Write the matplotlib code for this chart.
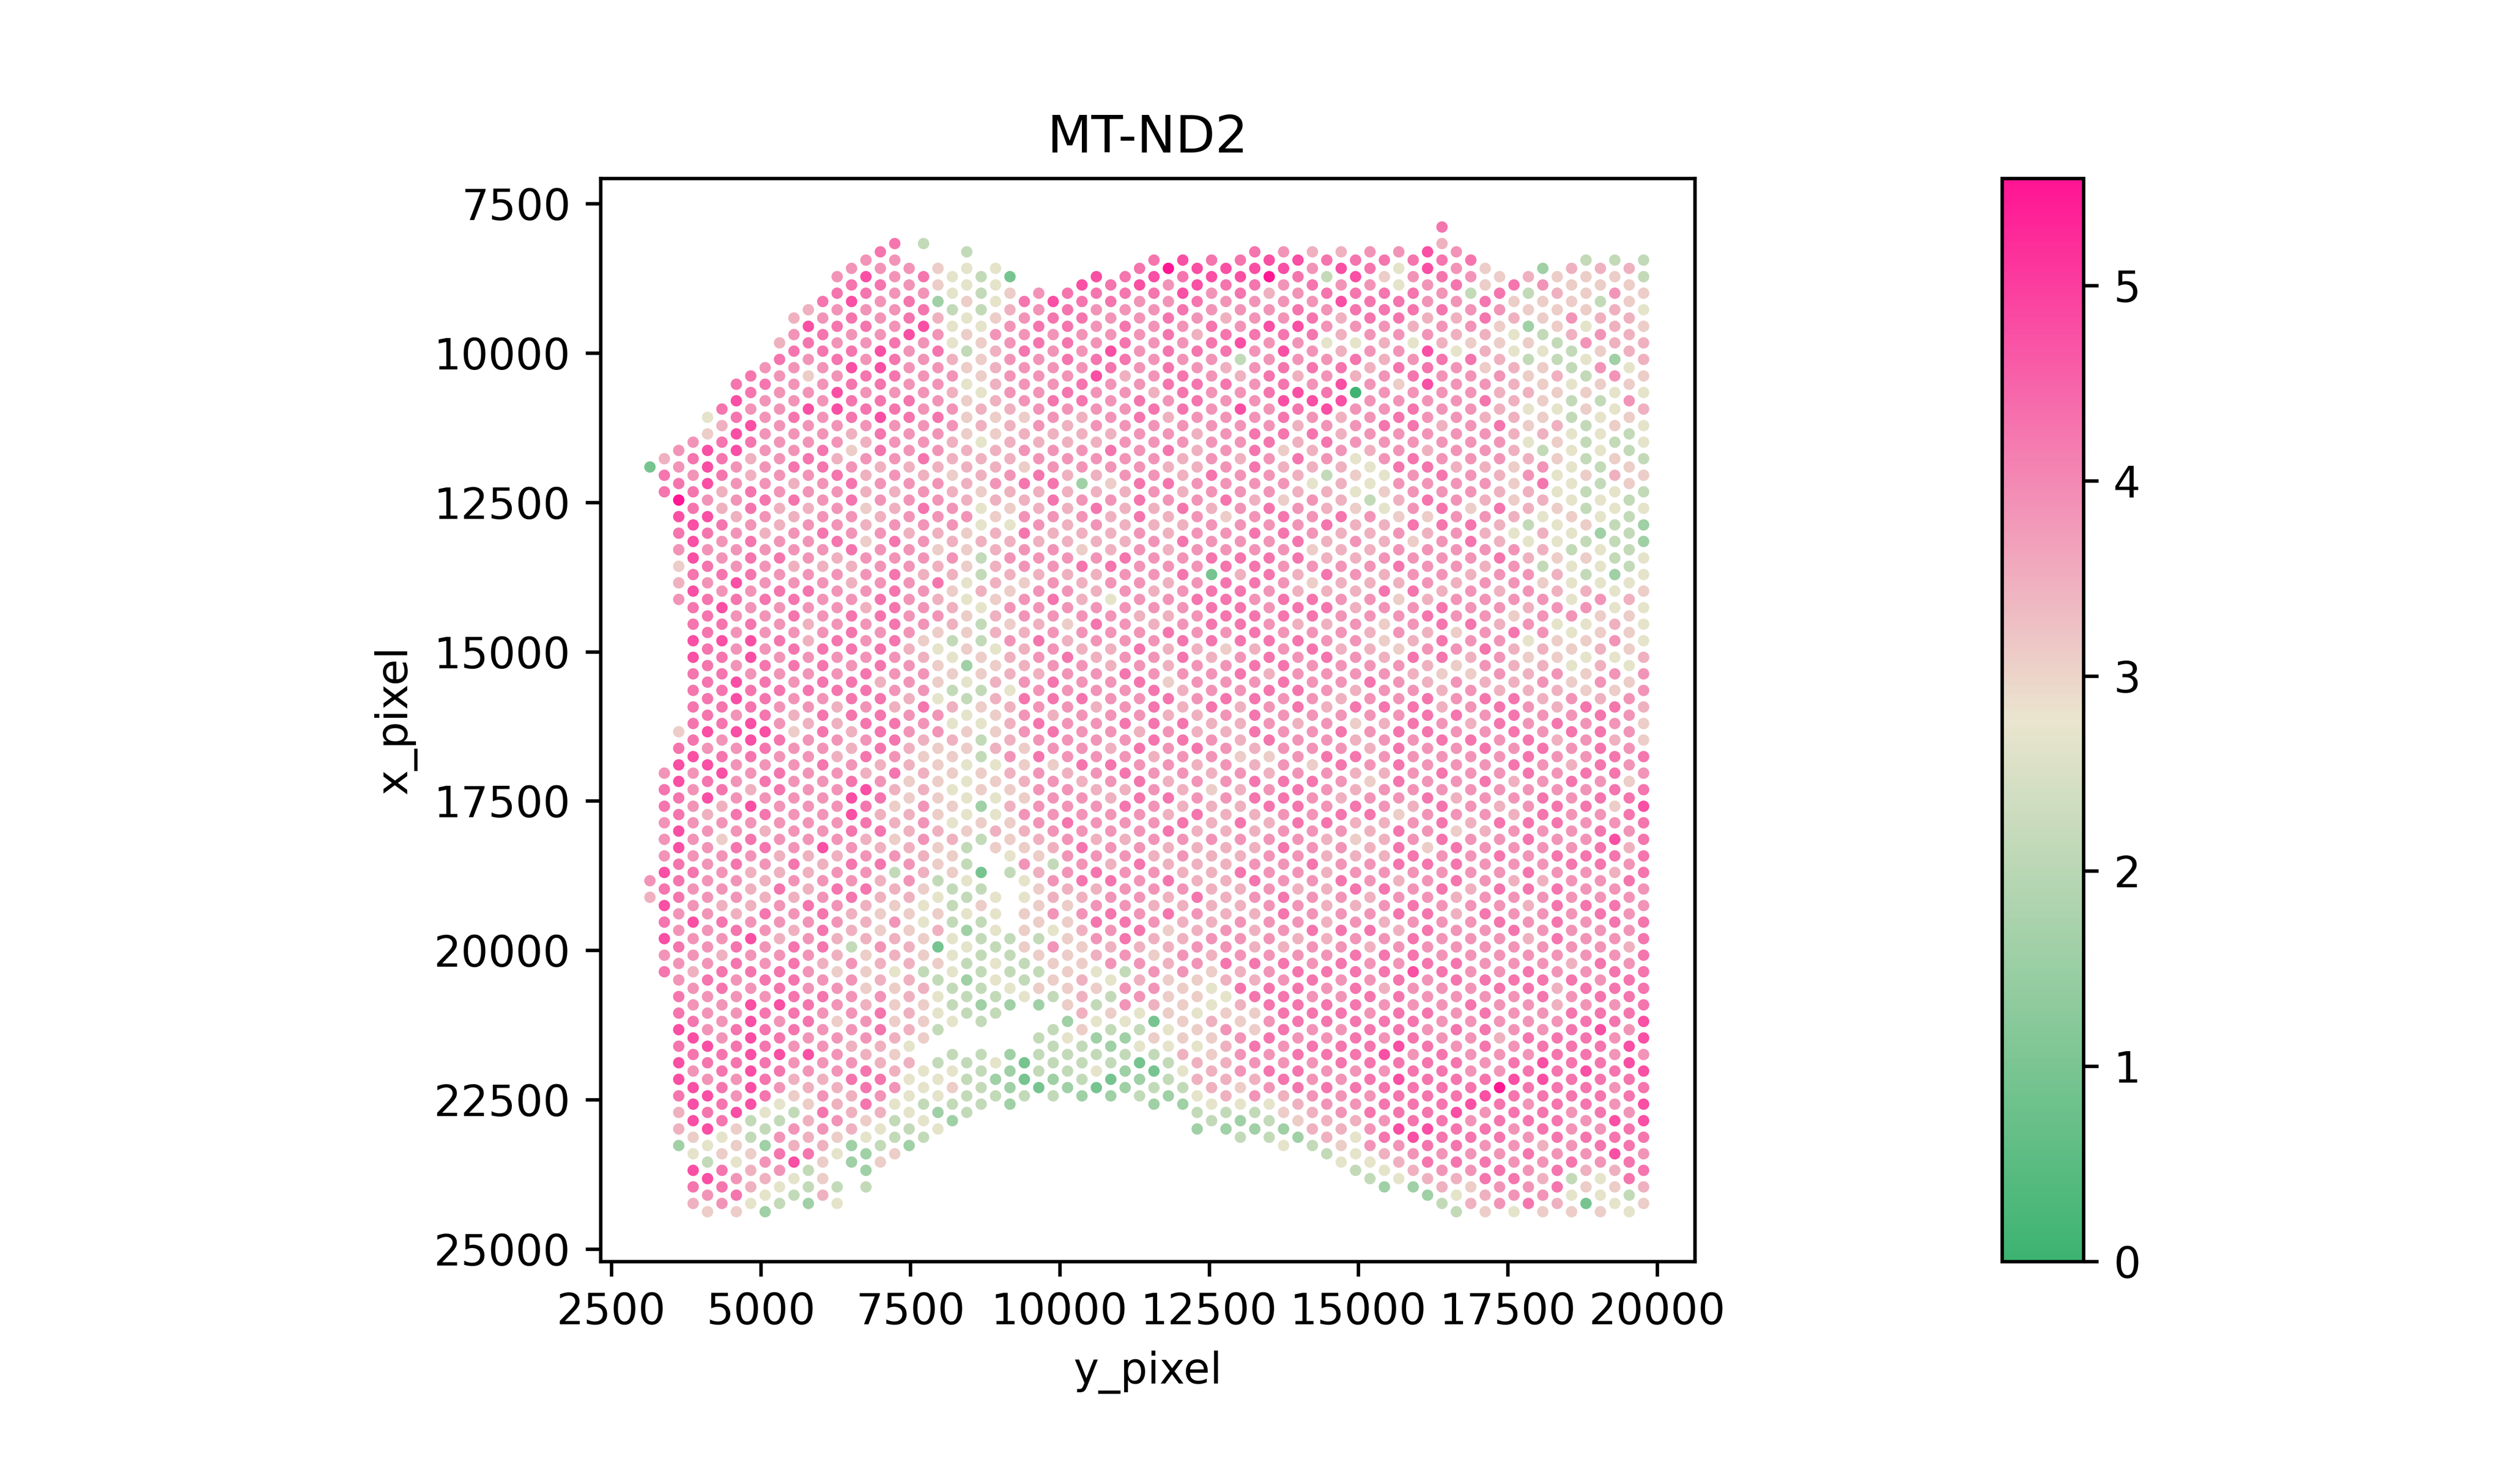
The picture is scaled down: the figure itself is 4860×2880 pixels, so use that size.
import numpy as np
import matplotlib
matplotlib.use('Agg')
import matplotlib.pyplot as plt
from matplotlib.colors import LinearSegmentedColormap

# spot grid: column / row number of the hex lattice
col_start = 3144
col_step = 241.0
row_start = 7894
row_step = 138.5

# colour class of a spot -> expression value ('x' is the very brightest)
level_values = {'0': 0.05, '1': 0.95, '2': 1.6, '3': 2.15, '4': 2.7, '5': 3.1,
                '6': 3.45, '7': 3.85, '8': 4.25, '9': 4.75, 'x': 5.5}

seg_col = [0, 0, 1, 1, 2, 2, 3, 4, 5, 6, 7, 8, 9, 10, 11, 12, 13, 14, 15, 16, 17, 18,
           19, 19, 20, 21, 22, 23, 24, 25, 26, 27, 28, 29, 30, 31, 32, 33, 34, 35, 36,
           37, 38, 39, 40, 41, 42, 43, 44, 45, 46, 47, 48, 49, 50, 51, 52, 53, 54, 55,
           56, 57, 58, 59, 60, 61, 62, 63, 64, 65, 66, 67, 68, 69]
seg_row = [29, 79, 28, 66, 27, 61, 26, 23, 22, 19, 18, 17, 14, 11, 10, 9, 6, 5, 4, 3, 2, 5,
           2, 6, 5, 6, 3, 6, 5, 6, 9, 8, 9, 8, 7, 6, 7, 6, 5, 4, 5,
           4, 5, 4, 5, 4, 3, 4, 3, 4, 3, 4, 3, 4, 3, 4, 3, 4, 3, 0,
           3, 4, 5, 6, 7, 6, 5, 6, 5, 4, 5, 4, 5, 4]
seg_levels = [
    "1",
    "76",
    "688",
    "7887779898978",
    "778x987567",
    "5899889988877" "8778898998662",
    "787889998" "988998888897777778779" "77677898799954986",
    "45999798787" "888888889798967777777" "77877798798943975",
    "86888668778" "798988888789867577768" "76887778888845887",
    "8989977767779" "877779979777787887768" "88777888779554785",
    "8879866887888" "778997889987697876667" "97879999999335664",
    "78777777876777" "877788889878786876687" "77878888884327642",
    "687777777766787" "877877877878877766877" "67889789874378743",
    "67877787786867767" "887887765777777787676" "8888887765376943",
    "69875797787767777" "876677876777777766687" "77778879765668332",
    "878877777887778767" "777888788787777967788" "8678777767876556",
    "7878787997768777867" "777877866767777767877" "66577577766754.34",
    "78987898886578877866" "788878886678998787866" "37777767866622",
    "79878778787676656577" "767778878786988677866" "6555677688854223",
    "878777998898867767777" "887886888867868686655" "76678866876435",
    "877777888787777667878" "888877768878656573657" "66455565674335",
    "77889777887767776777" "777677677665566677655" "6666664644432",
    "3",
    "8789777777786787776" "777567787656677766544" "5536555.44343",
    "55267877787767776568" "675455477555556553456" "153443.34424",
    "4434467677665677676" "566345364655454655333" "444334.34532",
    "344545354555666675554" "455524345544445334342" "43233..3333",
    "3334555466466544633" "6433553543355253.1353" "333323.3333",
    "44457666655667656666" "5664566556454465..444" "34433..423",
    "1567777766667654676" "575766466676565543..." "33342..2222",
    "877877756758678775" "776667877556576574455" "5334...113",
    "778877777678667676" "776876778787777656555" "35352.3331",
    "987777876778876777" "877778868757777637674" "7553.33323",
    "888887876676666676" "775687777776778777655" "5555524332",
    "9887778866772776586" "677677877786777878676" "5566653332",
    "9877789777676687676" "678767767777677678678" "7645342341",
    "8877987776875766687" "477667777687677768787" "6743532312",
    "8878886777777666687" "777778778778687677778" "8737742322",
    "89777777887778887777" "767878776878877787778" "6767434123",
    "89877777687777766777" "676777888867777767767" "65776153132",
    "x7788888767868766676" "768665867776868668685" "6655544332",
    "98987778887766686878" "777887668877668776766" "67755556432",
    "99876878876667777777" "877677766867786666876" "775545466432",
    "89778877777778767781" "888867786776566766666" "765446556643",
    "98768868777777857788" "887577876777766666667" "786457666632",
    "89877936797767777786" "888878766657668768667" "7768657775423",
    "898778777778887678788" "788687888668866678766" "686855876732",
    "9x679778877877787788" "777886877856786777777" "7778878787433",
    "797778988988567588777" "887788777778877877887" "6878887786524",
    "98789776986686677886" "686877886777888777677" "6788887888652",
    "678788787978664777575" "887877777758777787778" "7787878777663",
    "83877477897873668668" "686787767787778666666" "67878878787663",
    "697966689966766686676" "777677678787687778778" "78778788777654",
    "89887486077745456767" "667777685686686567867" "788888887876443",
    "787887767777644376676" "776678777675786677678" "677878888787743",
    "85887667778774546676" "875567786776776667876" "7886787978878642",
    "744887785787787657786" "577577778888758886786" "778888989889764",
    "87886478788787778577" "877686788777767787787" "8897788788889762",
    "997767989777687856777" "686766888777877587788" "7877878888898862",
    "8688787687776778788777" "688885667878788877877" "77877778888887763",
    "778766477777767777776" "775757787777675888667" "78877878889888643",
    "87377587777777758876" "778765776877776777677" "77778777789787756",
    "55886657867767676767" "777876877878776777787" "77878887897878865",
    "5875567668776686687" "676777688777768787878" "777877677x8887877",
    "8564466666655564777" "758666888786767776778" "77877778988777874",
    "6352535645467663467" "767456677888778878867" "67887787887878778",
    "27553455556378646635" "777667677877887776777" "77887789988867675",
    "5655336546554454456" "674557668677788787888" "87766788888887886",
    "65576334334444454344" "474545778768777787777" "76878888887778345",
    "35554743553335335353" "674545587778787787787" "77787888988787651",
    "65367575344433442444" "755667688887878887787" "78788988888787445",
    "35766627445356443332" "446747587688857986788" "77887877877989654",
    "65566645753355333334" "655545777775887678777" "67888799887888834",
    "33545665464435342244" "544467765587898888778" "88888997989987865",
]

ys, xs, vals = [], [], []
for col, row, levels in zip(seg_col, seg_row, seg_levels):
    for i, ch in enumerate(levels):
        if ch == '.':
            continue
        ys.append(col_start + col * col_step)
        xs.append(row_start + (row + 2 * i) * row_step)
        vals.append(level_values[ch])

cmap = LinearSegmentedColormap.from_list('gene', ['#3cb371', '#eae5ce', '#ff1493'])

fig = plt.figure(figsize=(8.1, 4.8), dpi=600)
ax = fig.add_axes([0.23978, 0.15, 0.43672, 0.73])
sc = ax.scatter(ys, xs, c=vals, cmap=cmap, vmin=0, vmax=5.55, s=7, linewidths=0)
ax.set_xlim(2319, 20627)
ax.set_ylim(25207, 7075)
ax.set_title('MT-ND2')
ax.set_xlabel('y_pixel')
ax.set_ylabel('x_pixel')
ax.set_xticks(np.arange(2500, 20001, 2500))
ax.set_yticks(np.arange(7500, 25001, 2500))

cax = fig.add_axes([0.7992, 0.15, 0.0325, 0.73])
fig.colorbar(sc, cax=cax)

fig.savefig('out.png', dpi=600)
